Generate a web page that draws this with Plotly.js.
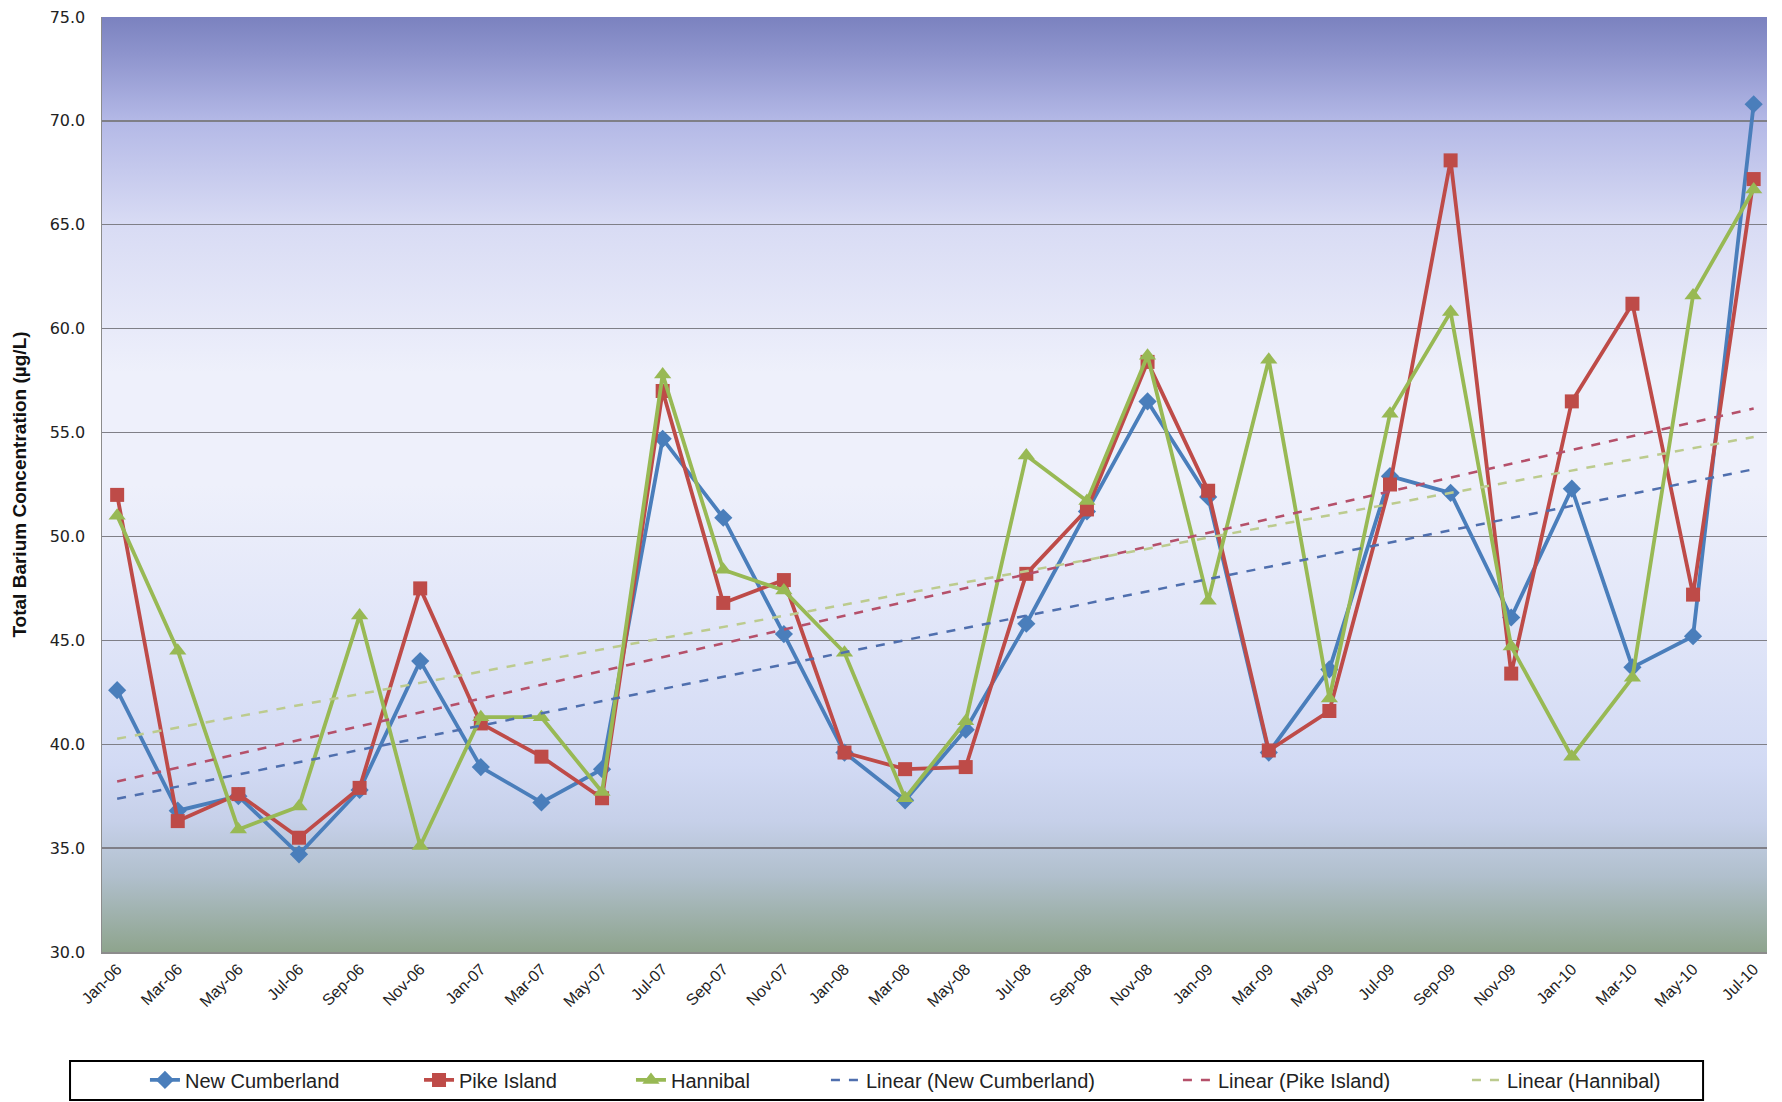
<!DOCTYPE html>
<html>
<head>
<meta charset="utf-8">
<script src="https://cdn.plot.ly/plotly-3.0.1.min.js"></script>
<style>
html,body{margin:0;padding:0;background:#fff;}
#chart{width:1782px;height:1102px;}
</style>
</head>
<body>
<div id="chart"></div>
<script>
const months = ['Jan-06','Mar-06','May-06','Jul-06','Sep-06','Nov-06',
  'Jan-07','Mar-07','May-07','Jul-07','Sep-07','Nov-07',
  'Jan-08','Mar-08','May-08','Jul-08','Sep-08','Nov-08',
  'Jan-09','Mar-09','May-09','Jul-09','Sep-09','Nov-09',
  'Jan-10','Mar-10','May-10','Jul-10'];
const newCumberland = [42.6,36.8,37.5,34.7,37.8,44.0,38.9,37.2,38.8,54.7,50.9,45.3,39.6,37.3,40.7,45.8,51.2,56.5,51.9,39.6,43.6,52.9,52.1,46.1,52.3,43.7,45.2,70.8];
const pikeIsland    = [52.0,36.3,37.6,35.5,37.9,47.5,41.0,39.4,37.4,57.0,46.8,47.9,39.6,38.8,38.9,48.2,51.3,58.4,52.2,39.7,41.6,52.5,68.1,43.4,56.5,61.2,47.2,67.2];
const hannibal      = [51.0,44.5,35.9,37.0,46.2,35.1,41.3,41.3,37.7,57.8,48.4,47.4,44.4,37.4,41.1,53.9,51.7,58.7,46.9,58.5,42.2,55.9,60.8,44.7,39.4,43.2,61.6,66.7];
const yTicks = [30,35,40,45,50,55,60,65,70,75];

function linearFit(vals){
  const n = vals.length;
  let sx=0, sy=0, sxx=0, sxy=0;
  vals.forEach((v,i)=>{ sx+=i; sy+=v; sxx+=i*i; sxy+=i*v; });
  const b = (n*sxy - sx*sy)/(n*sxx - sx*sx);
  const a = (sy - b*sx)/n;
  return vals.map((v,i)=>a+b*i);
}

const FONT = 'Liberation Sans, Arial, sans-serif';

function series(name, vals, color, symbol, size, lg){
  return {x: months, y: vals, name: name, type:'scatter', mode:'lines+markers', legend: lg,
    line:{color:color, width:3.8}, marker:{symbol:symbol, size:size, color:color}};
}
function trend(name, vals, color, lg){
  return {x: months, y: linearFit(vals), name: name, type:'scatter', mode:'lines', legend: lg,
    line:{color:color, width:2.5, dash:'dash'}};
}

const traces = [
  series('New Cumberland', newCumberland, '#4a7ebb', 'diamond', 14, 'legend'),
  series('Pike Island', pikeIsland, '#be4b48', 'square', 14, 'legend2'),
  series('Hannibal', hannibal, '#98b954', 'triangle-up', 15, 'legend3'),
  trend('Linear (New Cumberland)', newCumberland, '#4f6fae', 'legend4'),
  trend('Linear (Pike Island)', pikeIsland, '#b5506a', 'legend5'),
  trend('Linear (Hannibal)', hannibal, '#bccb8e', 'legend6')
];

const svg = '<svg xmlns="http://www.w3.org/2000/svg" width="100" height="100" preserveAspectRatio="none">' +
 '<defs><linearGradient id="g" x1="0" y1="0" x2="0" y2="1">' +
 '<stop offset="0" stop-color="#7b82bf"/>' +
 '<stop offset="0.04" stop-color="#8e94cd"/>' +
 '<stop offset="0.11" stop-color="#b3b8e6"/>' +
 '<stop offset="0.22" stop-color="#d8dbf4"/>' +
 '<stop offset="0.38" stop-color="#eef0fb"/>' +
 '<stop offset="0.5" stop-color="#eef0fb"/>' +
 '<stop offset="0.66" stop-color="#e0e5f8"/>' +
 '<stop offset="0.8" stop-color="#d2daf4"/>' +
 '<stop offset="0.86" stop-color="#c6d0e9"/>' +
 '<stop offset="0.92" stop-color="#b0bfcc"/>' +
 '<stop offset="1" stop-color="#8ea48d"/>' +
 '</linearGradient></defs><rect width="100" height="100" fill="url(#g)"/></svg>';
const bg = 'data:image/svg+xml;charset=utf-8,' + encodeURIComponent(svg);

function leg(x){
  return {orientation:'h', x:x, xref:'paper', y:0.02, yref:'container', xanchor:'left', yanchor:'middle',
    bgcolor:'rgba(0,0,0,0)', borderwidth:0, font:{family:FONT, size:20, color:'#222'}};
}

const layout = {
  width: 1782, height: 1102,
  margin: {l:102, r:15, t:17, b:150},
  paper_bgcolor: '#ffffff',
  plot_bgcolor: '#e6e9f8',
  font: {family: FONT, size: 15, color: '#222'},
  showlegend: true,
  images: [{source: bg, xref:'paper', yref:'paper', x:0, y:1, sizex:1, sizey:1,
    sizing:'stretch', xanchor:'left', yanchor:'top', layer:'below'}],
  shapes: [{type:'rect', xref:'paper', yref:'paper', x0:-0.0192, x1:0.9616, y0:-0.1583, y1:-0.1166,
    fillcolor:'#ffffff', line:{color:'#000000', width:2}, layer:'below'}],
  xaxis: {type:'category', range:[-0.25, 27.22], tickangle:-45, showgrid:false,
    tickfont:{family:FONT, size:16, color:'#222'}, showline:true, linecolor:'#8c8c8c', linewidth:1.5,
    ticks:'', zeroline:false, automargin:false},
  yaxis: {range:[30,75], tickvals: yTicks, tickformat:'.1f', showgrid:true,
    gridcolor:'#7f7f87', gridwidth:1.3, showline:true, linecolor:'#8c8c8c', linewidth:1.5,
    tickfont:{family:'DejaVu Sans, Verdana, sans-serif', size:16, color:'#222'}, ticks:'', ticklen:0,
    ticklabelstandoff:12, zeroline:false,
    title:{text:'<b>Total Barium Concentration (µg/L)</b>', font:{family:FONT, size:19, color:'#111'}, standoff:18},
    automargin:false},
  legend: leg(0.0258),
  legend2: leg(0.1904),
  legend3: leg(0.3177),
  legend4: leg(0.4348),
  legend5: leg(0.6462),
  legend6: leg(0.8198)
};

Plotly.newPlot('chart', traces, layout, {displayModeBar:false, staticPlot:true});
</script>
</body>
</html>
